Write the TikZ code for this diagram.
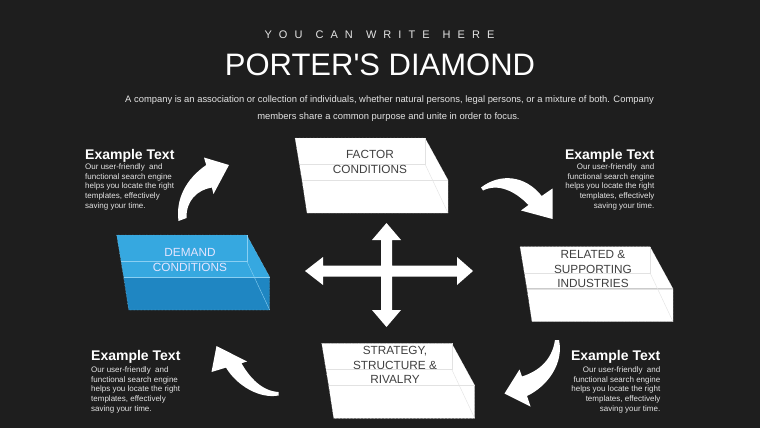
\documentclass[tikz,border=0pt]{standalone}
\usepackage{fontspec}
\setmainfont{Liberation Sans}
\newfontfamily\spacedfont[LetterSpace=64]{Liberation Sans}
\definecolor{bg}{HTML}{1E1E1E}
\definecolor{txtgray}{HTML}{E4E4E4}
\definecolor{boxtxt}{HTML}{404040}
\definecolor{hidden}{HTML}{E2E2E2}
\definecolor{bluetop}{HTML}{36A8E0}
\definecolor{bluefront}{HTML}{1F86C2}
\definecolor{blueline}{HTML}{8ACFF2}
\newcommand{\prismbox}[5]{%
  % #1 L, #2 T, #3 top fill, #4 front fill, #5 line colour
  \fill[#3] (#1,#2) -- ({#1+130},#2) -- ({#1+153},{#2+42}) -- ({#1+7},{#2+42}) -- cycle;
  \fill[#4] ({#1+7},{#2+42}) -- ({#1+153},{#2+42}) -- ({#1+153},{#2+75}) -- ({#1+12},{#2+75}) -- cycle;
  \draw[#5,line width=0.4pt] ({#1+4.5},{#2+26}) -- ({#1+130},{#2+26}) -- ({#1+130},#2);
  \draw[#5,line width=0.4pt] ({#1+130},{#2+26}) -- ({#1+153},{#2+75});
  \draw[#5,line width=0.4pt] ({#1+7},{#2+42}) -- ({#1+153},{#2+42});
  \draw[#5,line width=0.4pt,densely dotted] (#1,#2) -- ({#1+130},#2) -- ({#1+153},{#2+42}) -- ({#1+153},{#2+75}) -- ({#1+12},{#2+75}) -- cycle;
}
\tikzset{
  bodytext/.style={font=\fontsize{8}{9.7}\selectfont, text=txtgray, inner sep=0pt},
  headtext/.style={font=\fontsize{14}{16}\selectfont\bfseries, text=white, inner sep=0pt},
  boxtext/.style={font=\fontsize{11.8}{14.5}\selectfont, align=center, inner sep=0pt},
  arrowfill/.style={fill=white},
}
\begin{document}
\begin{tikzpicture}[x=1pt,y=-1pt]
\useasboundingbox (0,0) rectangle (760,428);
\fill[bg] (0,0) rectangle (760,428);

% titles
\node[inner sep=0pt, text=txtgray, font=\fontsize{11}{13}\spacedfont] (sub) at (379.5,35) {YOU\hspace{3pt} CAN\hspace{3pt} WRITE\hspace{3pt} HERE};
\node[inner sep=0pt, text=white, font=\fontsize{31}{36}\selectfont] (title) at (380,65) {PORTER\textquotesingle S DIAMOND};
\node[inner sep=0pt, text=txtgray, font=\fontsize{9.4}{11}\selectfont] (desc1) at (389.5,100) {A company is an association or collection of individuals, whether natural persons, legal persons, or a mixture of both. Company};
\node[inner sep=0pt, text=txtgray, font=\fontsize{9.4}{11}\selectfont] (desc2) at (388.5,117) {members share a common purpose and unite in order to focus.};

% boxes
\prismbox{295}{138}{white}{white}{hidden}
\prismbox{116.7}{235}{bluetop}{bluefront}{blueline}
\prismbox{520}{246.7}{white}{white}{hidden}
\prismbox{321.7}{343.3}{white}{white}{hidden}

\node[boxtext, text=boxtxt] (fac) at (370,162) {FACTOR\\CONDITIONS};
\node[boxtext, text=white!90!blue] (dem) at (190,260) {DEMAND\\CONDITIONS};
\node[boxtext, text=boxtxt] (rel) at (593,269) {RELATED \&\\SUPPORTING\\INDUSTRIES};
\node[boxtext, text=boxtxt] (str) at (395,365) {STRATEGY,\\STRUCTURE \&\\RIVALRY};

% central cross arrow
\fill[arrowfill] (305,271) -- (323,257) -- (323,265.5) -- (381,265.5) -- (381,240) -- (372,240)
  -- (386.5,223) -- (401,240) -- (392,240) -- (392,265.5) -- (457,265.5) -- (457,257)
  -- (473,271) -- (457,285) -- (457,276.5) -- (392,276.5) -- (392,310) -- (401,310)
  -- (386.5,327) -- (372,310) -- (381,310) -- (381,276.5) -- (323,276.5) -- (323,285) -- cycle;

% curved arrows
\fill[arrowfill] (178.5,221) .. controls (175.5,199) and (186,179) .. (206.2,165)
  -- (204,157.5) -- (229,165) -- (213.5,194) -- (211.8,187.5)
  .. controls (197,190) and (186,201) .. (186.5,218) -- cycle;
\fill[arrowfill] (481,187.5) .. controls (500,173) and (525,175) .. (541.7,196)
  -- (552.5,188.5) -- (552.5,219) -- (521,210.5) -- (528.5,205)
  .. controls (515,191) and (498,183) .. (483,190.5) -- cycle;
\fill[arrowfill] (559,340) .. controls (564,363) and (548,386) .. (527,396)
  -- (530.5,406.5) -- (504.5,393.5) -- (519.5,369.5) -- (522,376.5)
  .. controls (539,371) and (552,360) .. (555,340) -- cycle;
\fill[arrowfill] (278.5,392) .. controls (262,391) and (250,378) .. (241.5,363.3)
  -- (247,361.5) -- (216.5,346) -- (211.5,372) -- (226,367.6)
  .. controls (237,386) and (260,399) .. (278.5,395.5) -- cycle;

% example texts
\node[headtext, anchor=base west] (h1) at (85,159) {Example Text};
\node[bodytext, anchor=north west, align=left] (b1) at (85,163.5) {Our user-friendly\ \ and\\functional search engine\\helps you locate the right\\templates, effectively\\saving your time.};
\node[headtext, anchor=base east] (h2) at (654.5,159) {Example Text};
\node[bodytext, anchor=north east, align=right] (b2) at (654.5,163.5) {Our user-friendly\ \ and\\functional search engine\\helps you locate the right\\templates, effectively\\saving your time.};
\node[headtext, anchor=base west] (h3) at (91,360) {Example Text};
\node[bodytext, anchor=north west, align=left] (b3) at (91,366.3) {Our user-friendly\ \ and\\functional search engine\\helps you locate the right\\templates, effectively\\saving your time.};
\node[headtext, anchor=base east] (h4) at (660.5,360) {Example Text};
\node[bodytext, anchor=north east, align=right] (b4) at (660.5,366.3) {Our user-friendly\ \ and\\functional search engine\\helps you locate the right\\templates, effectively\\saving your time.};
\end{tikzpicture}
\end{document}
